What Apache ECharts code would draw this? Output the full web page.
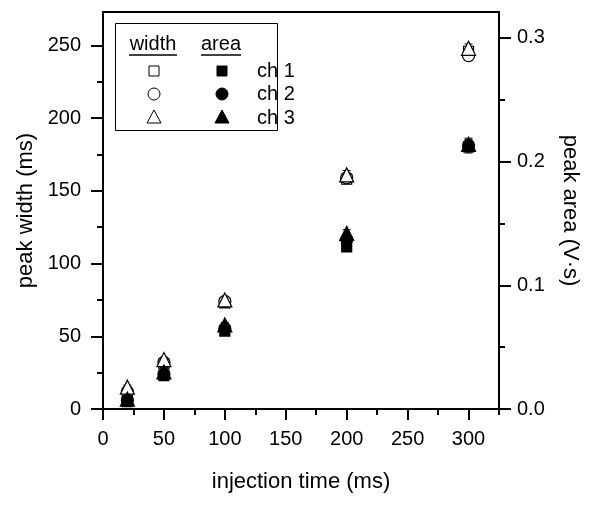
<!DOCTYPE html>
<html><head><meta charset="utf-8">
<script src="https://cdn.jsdelivr.net/npm/echarts@6/dist/echarts.min.js"></script>
<style>html,body{margin:0;padding:0;background:#fff}#c{width:600px;height:505px}</style>
</head><body><div id="c"></div>
<script>
// ---- data ----
const injectionTime = [20, 50, 100, 200, 300];
const widthCh1 = [10, 31, 73, 158, 246];
const widthCh2 = [12, 32, 74, 159, 243];
const widthCh3 = [15, 34, 75, 161, 248];
const widthErr = [1.5, 1.5, 2, 3, 3];
const areaCh1 = [0.006, 0.027, 0.063, 0.131, 0.212];
const areaCh2 = [0.007, 0.028, 0.065, 0.137, 0.213];
const areaCh3 = [0.008, 0.030, 0.068, 0.142, 0.214];
const areaErr = [0.002, 0.002, 0.002, 0.003, 0.005];
const xMajorTicks = [0, 50, 100, 150, 200, 250, 300];
const xMinorTicks = [25, 75, 125, 175, 225, 275, 325];
const yLeftMajor = [0, 50, 100, 150, 200, 250];
const yLeftMinor = [25, 75, 125, 175, 225];
const yRightMajor = [0, 0.1, 0.2, 0.3];
const yRightMinor = [0.05, 0.15, 0.25];

const FONT = 'Liberation Sans';
const chart = echarts.init(document.getElementById('c'), null, {renderer: 'canvas'});

function pairs(ys) { return injectionTime.map((x, i) => [x, ys[i]]); }
function errData(ys, es) { return injectionTime.map((x, i) => [x, ys[i], es[i]]); }

function errSeries(ys, es, yIdx) {
  return {
    type: 'custom', xAxisIndex: 0, yAxisIndex: yIdx, z: 1,
    data: errData(ys, es),
    renderItem: function (params, api) {
      const x = api.value(0), y = api.value(1), e = api.value(2);
      const hi = api.coord([x, y + e]), lo = api.coord([x, y - e]);
      const cw = 4;
      const st = {stroke: '#000', lineWidth: 1};
      return {type: 'group', children: [
        {type: 'line', shape: {x1: hi[0], y1: hi[1], x2: lo[0], y2: lo[1]}, style: st},
        {type: 'line', shape: {x1: hi[0] - cw, y1: hi[1], x2: hi[0] + cw, y2: hi[1]}, style: st},
        {type: 'line', shape: {x1: lo[0] - cw, y1: lo[1], x2: lo[0] + cw, y2: lo[1]}, style: st}
      ]};
    }
  };
}

function scat(ys, yIdx, symbol, size, filled) {
  return {
    type: 'scatter', xAxisIndex: 0, yAxisIndex: yIdx, z: 3,
    symbol: symbol, symbolSize: size,
    itemStyle: {color: filled ? '#000' : '#fff', borderColor: '#000', borderWidth: 1.2, opacity: 1},
    emphasis: {disabled: true},
    data: pairs(ys)
  };
}

const mainLine = {show: true, onZero: false, lineStyle: {color: '#000', width: 2}};
const hiddenLine = {show: false, onZero: false};
const labelStyle = {color: '#000', fontFamily: FONT, fontSize: 20};
const nameStyle = {color: '#000', fontFamily: FONT, fontSize: 22};
function ticks(len, vals) {
  return {show: true, inside: false, length: len, lineStyle: {color: '#000', width: 2}, customValues: vals};
}

const option = {
  backgroundColor: '#fff',
  animation: false,
  grid: {left: 103, right: 101, top: 12, bottom: 96, show: true, borderColor: '#000', borderWidth: 2, backgroundColor: 'transparent'},
  xAxis: [
    {type: 'value', min: 0, max: 325, position: 'bottom',
     name: 'injection time (ms)', nameLocation: 'middle', nameGap: 62, nameTextStyle: nameStyle,
     axisLine: mainLine, axisTick: ticks(11, xMajorTicks),
     axisLabel: Object.assign({margin: 20, customValues: xMajorTicks, formatter: v => String(v)}, labelStyle),
     splitLine: {show: false}},
    {type: 'value', min: 0, max: 325, position: 'bottom',
     axisLine: hiddenLine, axisTick: ticks(6, xMinorTicks),
     axisLabel: {show: false}, splitLine: {show: false}}
  ],
  yAxis: [
    {type: 'value', min: 0, max: 273, position: 'left',
     name: 'peak width (ms)', nameLocation: 'middle', nameGap: 66, nameRotate: 90, nameTextStyle: nameStyle,
     axisLine: mainLine, axisTick: ticks(12, yLeftMajor),
     axisLabel: Object.assign({margin: 22, customValues: yLeftMajor, formatter: v => String(v)}, labelStyle),
     splitLine: {show: false}},
    {type: 'value', min: 0, max: 0.321, position: 'right',
     name: 'peak area (V·s)', nameLocation: 'middle', nameGap: 60, nameRotate: -90, nameTextStyle: nameStyle,
     axisLine: mainLine, axisTick: ticks(12, yRightMajor),
     axisLabel: Object.assign({margin: 18, customValues: yRightMajor, formatter: v => v.toFixed(1)}, labelStyle),
     splitLine: {show: false}},
    {type: 'value', min: 0, max: 273, position: 'left', offset: 0,
     axisLine: hiddenLine, axisTick: ticks(6, yLeftMinor),
     axisLabel: {show: false}, splitLine: {show: false}},
    {type: 'value', min: 0, max: 0.321, position: 'right', offset: 0,
     axisLine: hiddenLine, axisTick: ticks(6, yRightMinor),
     axisLabel: {show: false}, splitLine: {show: false}}
  ],
  series: [
    errSeries(widthCh1, widthErr, 0),
    errSeries(widthCh2, widthErr, 0),
    errSeries(widthCh3, widthErr, 0),
    errSeries(areaCh1, areaErr, 1),
    errSeries(areaCh2, areaErr, 1),
    errSeries(areaCh3, areaErr, 1),
    scat(widthCh1, 0, 'rect', 10, false),
    scat(widthCh2, 0, 'circle', 12, false),
    scat(widthCh3, 0, 'triangle', 14, false),
    scat(areaCh1, 1, 'rect', 10, true),
    scat(areaCh2, 1, 'circle', 12, true),
    scat(areaCh3, 1, 'triangle', 14, true)
  ],
  graphic: [
    {type: 'rect', left: 115, top: 23, shape: {width: 162, height: 107}, style: {fill: '#fff', stroke: '#000', lineWidth: 1}, z: 10},
    {type: 'text', x: 153, y: 44, style: {text: 'width', fill: '#000', font: '20px "Liberation Sans"', textAlign: 'center', textVerticalAlign: 'middle'}, z: 11},
    {type: 'line', shape: {x1: 129, y1: 55, x2: 177, y2: 55}, style: {stroke: '#000', lineWidth: 1.5}, z: 11},
    {type: 'text', x: 221, y: 44, style: {text: 'area', fill: '#000', font: '20px "Liberation Sans"', textAlign: 'center', textVerticalAlign: 'middle'}, z: 11},
    {type: 'line', shape: {x1: 201, y1: 55, x2: 241, y2: 55}, style: {stroke: '#000', lineWidth: 1.5}, z: 11},
    {type: 'rect', shape: {x: 149, y: 66, width: 10, height: 10}, style: {fill: '#fff', stroke: '#000', lineWidth: 1}, z: 11},
    {type: 'rect', shape: {x: 217, y: 66, width: 10, height: 10}, style: {fill: '#000', stroke: '#000', lineWidth: 1}, z: 11},
    {type: 'circle', shape: {cx: 154, cy: 94, r: 6}, style: {fill: '#fff', stroke: '#000', lineWidth: 1}, z: 11},
    {type: 'circle', shape: {cx: 222, cy: 94, r: 6}, style: {fill: '#000', stroke: '#000', lineWidth: 1}, z: 11},
    {type: 'polygon', shape: {points: [[154, 110], [161, 123], [147, 123]]}, style: {fill: '#fff', stroke: '#000', lineWidth: 1}, z: 11},
    {type: 'polygon', shape: {points: [[222, 110], [229, 123], [215, 123]]}, style: {fill: '#000', stroke: '#000', lineWidth: 1}, z: 11},
    {type: 'text', x: 257, y: 71, style: {text: 'ch 1', fill: '#000', font: '20px "Liberation Sans"', textAlign: 'left', textVerticalAlign: 'middle'}, z: 11},
    {type: 'text', x: 257, y: 94, style: {text: 'ch 2', fill: '#000', font: '20px "Liberation Sans"', textAlign: 'left', textVerticalAlign: 'middle'}, z: 11},
    {type: 'text', x: 257, y: 118, style: {text: 'ch 3', fill: '#000', font: '20px "Liberation Sans"', textAlign: 'left', textVerticalAlign: 'middle'}, z: 11}
  ]
};
chart.setOption(option);
</script>
</body></html>
